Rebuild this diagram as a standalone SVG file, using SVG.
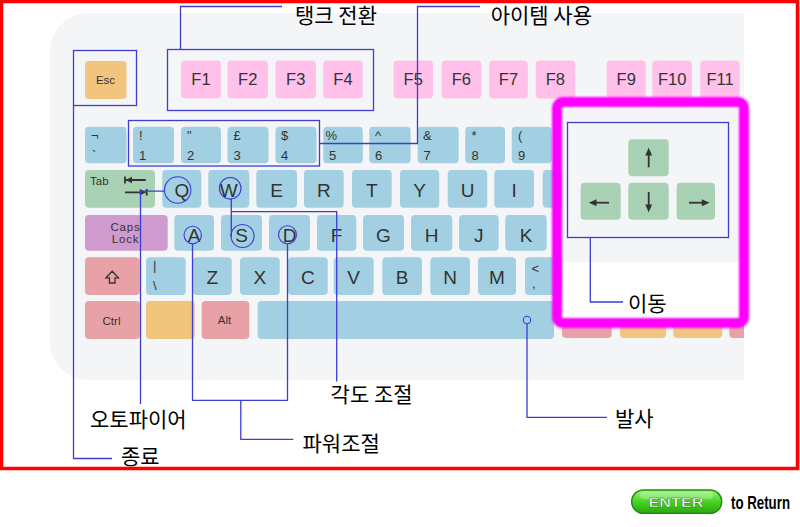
<svg xmlns="http://www.w3.org/2000/svg" width="800" height="527" viewBox="0 0 800 527">
<defs>
<style>
.k{fill:#a2cfe1}
.pk{fill:#ffc1ea}
.or{fill:#f2c57f}
.rd{fill:#e8a1a7}
.gr{fill:#a8d2b3}
.pu{fill:#cf9bcf}
.big{font-family:"Liberation Sans",Arial,sans-serif;font-size:19px;fill:#333;text-anchor:middle}
.fk{font-family:"Liberation Sans",Arial,sans-serif;font-size:16.5px;fill:#333;text-anchor:middle}
.sm{font-family:"Liberation Sans",Arial,sans-serif;font-size:13px;fill:#333}
.tiny{font-family:"Liberation Sans",Arial,sans-serif;font-size:11.5px;fill:#333}
.lbl{font-family:"Noto Sans CJK KR","Noto Sans",sans-serif;font-size:21px;fill:#000}
.ln{fill:none;stroke:#3d3dd2;stroke-width:1.3}
.cir{fill:none;stroke:#3d3dd2;stroke-width:1.1}
.ar{fill:#333;stroke:none}
.arl{stroke:#333;stroke-width:1.8;fill:none}
</style>
<filter id="soft" x="-5%" y="-5%" width="110%" height="110%"><feGaussianBlur stdDeviation="1.3"/></filter>
<filter id="soft2" x="-2%" y="-2%" width="104%" height="104%"><feGaussianBlur stdDeviation="0.7"/></filter>
<linearGradient id="eg" x1="0" y1="0" x2="0" y2="1">
<stop offset="0" stop-color="#9cf77a"/>
<stop offset="0.5" stop-color="#48d422"/>
<stop offset="1" stop-color="#27a80c"/>
</linearGradient>
</defs>
<rect width="800" height="527" fill="#fff"/>
<path d="M88,13 H744 V380 H88 A38,38 0 0 1 50,342 V51 A38,38 0 0 1 88,13 Z" fill="#f4f5f7"/>

<g id="row-f">
<g id="key-esc"><rect class="or" x="85" y="61" width="41.5" height="38" rx="4"/><text class="tiny" x="105.5" y="83.5" text-anchor="middle" font-size="10.5">Esc</text></g>
<g id="key-f1"><rect class="pk" x="181" y="60.5" width="40" height="38" rx="4"/><text class="fk" x="201" y="85">F1</text></g>
<g id="key-f2"><rect class="pk" x="227.5" y="60.5" width="40.5" height="38" rx="4"/><text class="fk" x="247.7" y="85">F2</text></g>
<g id="key-f3"><rect class="pk" x="275.5" y="60.5" width="40.5" height="38" rx="4"/><text class="fk" x="295.7" y="85">F3</text></g>
<g id="key-f4"><rect class="pk" x="323.3" y="60.5" width="39.5" height="38" rx="4"/><text class="fk" x="343" y="85">F4</text></g>
<g id="key-f5"><rect class="pk" x="393.5" y="60.5" width="39.5" height="38" rx="4"/><text class="fk" x="413.2" y="85">F5</text></g>
<g id="key-f6"><rect class="pk" x="441.7" y="60.5" width="39.5" height="38" rx="4"/><text class="fk" x="461.4" y="85">F6</text></g>
<g id="key-f7"><rect class="pk" x="489.3" y="60.5" width="38.5" height="38" rx="4"/><text class="fk" x="508.5" y="85">F7</text></g>
<g id="key-f8"><rect class="pk" x="535.7" y="60.5" width="39.5" height="38" rx="4"/><text class="fk" x="555.4" y="85">F8</text></g>
<g id="key-f9"><rect class="pk" x="606.7" y="60.5" width="39" height="38" rx="4"/><text class="fk" x="626.2" y="85">F9</text></g>
<g id="key-f10"><rect class="pk" x="652.3" y="60.5" width="39.7" height="38" rx="4"/><text class="fk" x="672.1" y="85">F10</text></g>
<g id="key-f11"><rect class="pk" x="700.3" y="60.5" width="39.4" height="38" rx="4"/><text class="fk" x="720" y="85">F11</text></g>
</g>

<g id="row-num">
<g id="key-grave"><rect class="k" x="85" y="126.7" width="41.5" height="36.6" rx="4"/><text class="sm" x="91" y="140">¬</text><text class="sm" x="92" y="160">`</text></g>
<g id="key-1"><rect class="k" x="133" y="126.7" width="41" height="36.6" rx="4"/><text class="sm" x="139" y="140">!</text><text class="sm" x="139" y="160">1</text></g>
<g id="key-2"><rect class="k" x="181" y="126.7" width="40" height="36.6" rx="4"/><text class="sm" x="187" y="140">"</text><text class="sm" x="187" y="160">2</text></g>
<g id="key-3"><rect class="k" x="227.5" y="126.7" width="41" height="36.6" rx="4"/><text class="sm" x="233.5" y="140">£</text><text class="sm" x="233.5" y="160">3</text></g>
<g id="key-4"><rect class="k" x="275.5" y="126.7" width="41" height="36.6" rx="4"/><text class="sm" x="281" y="140">$</text><text class="sm" x="281" y="160">4</text></g>
<g id="key-5"><rect class="k" x="323.3" y="126.7" width="39.5" height="36.6" rx="4"/><text class="sm" x="325.5" y="140">%</text><text class="sm" x="329" y="160">5</text></g>
<g id="key-6"><rect class="k" x="369.3" y="126.7" width="41.3" height="36.6" rx="4"/><text class="sm" x="375" y="140">^</text><text class="sm" x="375" y="160">6</text></g>
<g id="key-7"><rect class="k" x="417.7" y="126.7" width="41" height="36.6" rx="4"/><text class="sm" x="423" y="140">&amp;</text><text class="sm" x="423.5" y="160">7</text></g>
<g id="key-8"><rect class="k" x="465.3" y="126.7" width="39.7" height="36.6" rx="4"/><text class="sm" x="471.5" y="140">*</text><text class="sm" x="471.5" y="160">8</text></g>
<g id="key-9"><rect class="k" x="511.7" y="126.7" width="40" height="36.6" rx="4"/><text class="sm" x="518" y="140">(</text><text class="sm" x="518" y="160">9</text></g>
</g>

<g id="row-q">
<g id="key-tab"><rect class="gr" x="85" y="170" width="70" height="37.7" rx="4"/><text class="tiny" x="90" y="185">Tab</text>
<path class="arl" d="M125,176.5 V183.5 M125.5,180 H145.7 M140,192.3 H125 M146.7,189 V195.6" stroke-width="1.5"/>
<path class="ar" d="M125.5,180 L132,176.8 V183.2 Z M146.3,192.3 L139.8,189.1 V195.5 Z"/></g>
<g id="key-q"><rect class="k" x="162.3" y="170" width="39" height="37.7" rx="4"/><text class="big" x="181.8" y="196.5">Q</text></g>
<g id="key-w"><rect class="k" x="208.3" y="170" width="41" height="37.7" rx="4"/><text class="big" x="228.8" y="196.5">W</text></g>
<g id="key-e"><rect class="k" x="256.3" y="170" width="40.7" height="37.7" rx="4"/><text class="big" x="276.6" y="196.5">E</text></g>
<g id="key-r"><rect class="k" x="304" y="170" width="39.7" height="37.7" rx="4"/><text class="big" x="323.8" y="196.5">R</text></g>
<g id="key-t"><rect class="k" x="352" y="170" width="39.7" height="37.7" rx="4"/><text class="big" x="371.8" y="196.5">T</text></g>
<g id="key-y"><rect class="k" x="400" y="170" width="39.3" height="37.7" rx="4"/><text class="big" x="419.6" y="196.5">Y</text></g>
<g id="key-u"><rect class="k" x="447.7" y="170" width="39.6" height="37.7" rx="4"/><text class="big" x="467.5" y="196.5">U</text></g>
<g id="key-i"><rect class="k" x="494.3" y="170" width="39.7" height="37.7" rx="4"/><text class="big" x="514.1" y="196.5">I</text></g>
<g id="key-o"><rect class="k" x="542.7" y="170" width="40" height="37.7" rx="4"/></g>
</g>

<g id="row-a">
<g id="key-caps"><rect class="pu" x="85" y="215" width="82.7" height="35.7" rx="4"/><text class="tiny" x="125.5" y="230.7" text-anchor="middle" font-size="12" letter-spacing="0.8">Caps</text><text class="tiny" x="125.5" y="242.7" text-anchor="middle" font-size="12" letter-spacing="0.8">Lock</text></g>
<g id="key-a"><rect class="k" x="174.3" y="215" width="39.7" height="35.7" rx="4"/><text class="big" x="194.1" y="241.5">A</text></g>
<g id="key-s"><rect class="k" x="221" y="215" width="41" height="35.7" rx="4"/><text class="big" x="241.5" y="241.5">S</text></g>
<g id="key-d"><rect class="k" x="269" y="215" width="41" height="35.7" rx="4"/><text class="big" x="289.5" y="241.5">D</text></g>
<g id="key-f"><rect class="k" x="317" y="215" width="39.3" height="35.7" rx="4"/><text class="big" x="336.6" y="241.5">F</text></g>
<g id="key-g"><rect class="k" x="363" y="215" width="41" height="35.7" rx="4"/><text class="big" x="383.5" y="241.5">G</text></g>
<g id="key-h"><rect class="k" x="411" y="215" width="41.3" height="35.7" rx="4"/><text class="big" x="431.6" y="241.5">H</text></g>
<g id="key-j"><rect class="k" x="459" y="215" width="39.7" height="35.7" rx="4"/><text class="big" x="478.8" y="241.5">J</text></g>
<g id="key-k"><rect class="k" x="505.3" y="215" width="41.4" height="35.7" rx="4"/><text class="big" x="526" y="241.5">K</text></g>
</g>

<g id="row-z">
<g id="key-shift"><rect class="rd" x="85" y="257.3" width="54.7" height="37.7" rx="4"/><path d="M112.2,271.3 L118.5,277.8 H115 V283 H109.4 V277.8 H105.9 Z" fill="none" stroke="#333" stroke-width="1.3" stroke-linejoin="miter"/></g>
<g id="key-bslash"><rect class="k" x="146" y="257.3" width="39.7" height="37.7" rx="4"/><text class="sm" x="153" y="270" font-size="14">|</text><text class="sm" x="153" y="290">\</text></g>
<g id="key-z"><rect class="k" x="192.7" y="257.3" width="39" height="37.7" rx="4"/><text class="big" x="212.2" y="284">Z</text></g>
<g id="key-x"><rect class="k" x="240" y="257.3" width="39.7" height="37.7" rx="4"/><text class="big" x="259.8" y="284">X</text></g>
<g id="key-c"><rect class="k" x="288" y="257.3" width="39.7" height="37.7" rx="4"/><text class="big" x="307.8" y="284">C</text></g>
<g id="key-v"><rect class="k" x="333.7" y="257.3" width="40" height="37.7" rx="4"/><text class="big" x="353.7" y="284">V</text></g>
<g id="key-b"><rect class="k" x="382.3" y="257.3" width="39.7" height="37.7" rx="4"/><text class="big" x="402.1" y="284">B</text></g>
<g id="key-n"><rect class="k" x="430.3" y="257.3" width="39.7" height="37.7" rx="4"/><text class="big" x="450.1" y="284">N</text></g>
<g id="key-m"><rect class="k" x="478" y="257.3" width="38" height="37.7" rx="4"/><text class="big" x="497" y="284">M</text></g>
<g id="key-comma"><rect class="k" x="525" y="257.3" width="40" height="37.7" rx="4"/><text class="sm" x="531.5" y="273">&lt;</text><text class="sm" x="532" y="288">,</text></g>
</g>

<g id="row-bottom">
<g id="key-ctrl"><rect class="rd" x="85" y="301" width="54.7" height="38" rx="4"/><text class="tiny" x="111.5" y="325" text-anchor="middle">Ctrl</text></g>
<g id="key-fn"><rect class="or" x="146" y="301" width="48.7" height="38" rx="4"/></g>
<g id="key-alt"><rect class="rd" x="201.7" y="301" width="47.6" height="38" rx="4"/><text class="tiny" x="224.5" y="323.5" text-anchor="middle" font-size="11">Alt</text></g>
<g id="key-space"><rect class="k" x="257.7" y="301" width="296.3" height="38" rx="4"/></g>
<g id="key-r1"><rect class="rd" x="562" y="301" width="49.7" height="37" rx="4"/></g>
<g id="key-r2"><rect class="or" x="620" y="301" width="46" height="37" rx="4"/></g>
<g id="key-r3"><rect class="or" x="673.3" y="301" width="49" height="37" rx="4"/></g>
<g id="key-r4"><path class="rd" d="M733.3,301 H744 V338 H733.3 A4,4 0 0 1 729.3,334 V305 A4,4 0 0 1 733.3,301 Z"/></g>
</g>

<g id="arrow-panel">
<rect x="562" y="107" width="182" height="216" fill="#fff"/>
<rect x="562" y="107" width="182" height="155.5" fill="#f4f5f7"/>
<rect x="557" y="102" width="187" height="221" rx="6" fill="none" stroke="#ff00ff" stroke-width="10" filter="url(#soft)"/>
<rect x="557" y="102" width="187" height="221" rx="6" fill="none" stroke="#ff00ff" stroke-width="7"/>
<g id="key-up"><rect class="gr" x="628.3" y="139.3" width="40.4" height="37" rx="4"/><path class="arl" d="M648.7,153 V167.3"/><path class="ar" d="M648.7,147.8 L645.2,155.5 H652.2 Z"/></g>
<g id="key-left"><rect class="gr" x="580.7" y="182.7" width="40" height="37" rx="4"/><path class="arl" d="M594,202.7 H609"/><path class="ar" d="M588.8,202.7 L596.5,199.2 V206.2 Z"/></g>
<g id="key-down"><rect class="gr" x="628.3" y="182.7" width="40.4" height="37" rx="4"/><path class="arl" d="M648.7,192 V207"/><path class="ar" d="M648.7,212.2 L645.2,204.5 H652.2 Z"/></g>
<g id="key-right"><rect class="gr" x="676.7" y="182.7" width="38.3" height="37" rx="4"/><path class="arl" d="M689,202.7 H704"/><path class="ar" d="M709.5,202.7 L701.8,199.2 V206.2 Z"/></g>
</g>

<g id="connectors">
<rect class="ln" x="73.5" y="50.5" width="63" height="55"/>
<rect class="ln" x="167.5" y="49.5" width="206" height="61"/>
<rect class="ln" x="128.5" y="120.5" width="191" height="45.5"/>
<rect class="ln" x="567.5" y="122.5" width="161" height="115"/>
<circle class="cir" cx="177.7" cy="190" r="13.2"/>
<circle class="cir" cx="230.2" cy="188.3" r="10.8"/>
<circle class="cir" cx="192.7" cy="235" r="8.7"/>
<circle class="cir" cx="242.5" cy="236" r="11.5"/>
<circle class="cir" cx="287.5" cy="234.7" r="9"/>
<circle class="cir" cx="527" cy="320" r="3.7"/>
<path class="ln" d="M73.5,105.5 V458.5 H112"/>
<path class="ln" d="M180.5,49.5 V6.5 H282"/>
<path class="ln" d="M319.5,143.5 H417.5 V6.5 H480"/>
<path class="ln" d="M164.5,191.2 H140.5 V404"/>
<path class="ln" d="M231.3,198.5 V237"/>
<path class="ln" d="M231.3,211.7 H336.7 V381.5"/>
<path class="ln" d="M192.5,243.7 V400.3 H287.5 V243.7"/>
<path class="ln" d="M240.8,400.3 V439.3 H293.4"/>
<path class="ln" d="M527,323.7 V417.3 H607"/>
<path class="ln" d="M590.3,237.5 V302 H623"/>
</g>

<g id="labels">
<text id="lbl-tank" class="lbl" x="295" y="23">탱크 전환</text>
<text id="lbl-item" class="lbl" x="490.7" y="23">아이템 사용</text>
<text id="lbl-move" class="lbl" x="628" y="311">이동</text>
<text id="lbl-angle" class="lbl" x="330.6" y="402">각도 조절</text>
<text id="lbl-auto" class="lbl" x="90" y="427">오토파이어</text>
<text id="lbl-fire" class="lbl" x="615" y="426">발사</text>
<text id="lbl-power" class="lbl" x="302.5" y="451">파워조절</text>
<text id="lbl-exit" class="lbl" x="121" y="464">종료</text>
</g>

<rect x="1.5" y="1.5" width="796" height="467" fill="none" stroke="#ff0000" stroke-width="3.5" filter="url(#soft2)"/>
<rect x="1.5" y="1.5" width="796" height="467" fill="none" stroke="#ff0000" stroke-width="2.5"/>

<g id="enter-button">
<rect x="631.7" y="490" width="90" height="23.3" rx="11.6" fill="url(#eg)" stroke="#1f8f0c" stroke-width="1.5"/>
<rect x="640" y="492" width="73" height="7" rx="3.5" fill="#ffffff" opacity="0.25"/>
<text x="676" y="507" font-family="Liberation Sans,Arial,sans-serif" font-weight="bold" font-size="12.5" fill="#fff" stroke="#1a7a0a" stroke-width="0.4" text-anchor="middle" textLength="55" lengthAdjust="spacingAndGlyphs">ENTER</text>
<text transform="translate(731,509.3) scale(0.7,1)" x="0" y="0" font-family="Liberation Sans,Arial,sans-serif" font-weight="bold" font-size="19" fill="#000">to Return</text>
</g>
</svg>
